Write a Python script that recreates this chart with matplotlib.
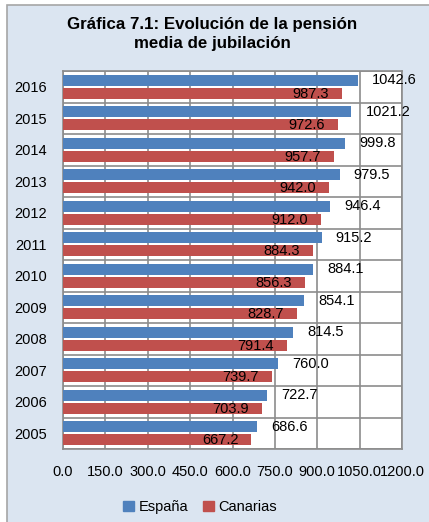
import matplotlib
matplotlib.use("Agg")
import matplotlib.pyplot as plt
from matplotlib import font_manager
from matplotlib.patches import Rectangle
import numpy as np

years = ['2005', '2006', '2007', '2008', '2009', '2010',
         '2011', '2012', '2013', '2014', '2015', '2016']
espana = [686.6, 722.7, 760.0, 814.5, 854.1, 884.1,
          915.2, 946.4, 979.5, 999.8, 1021.2, 1042.6]
canarias = [667.2, 703.9, 739.7, 791.4, 828.7, 856.3,
            884.3, 912.0, 942.0, 957.7, 972.6, 987.3]
xticks = [0, 150, 300, 450, 600, 750, 900, 1050, 1200]

# fuente estrecha si existe, si no Liberation Sans un poco más pequeña
names = {f.name for f in font_manager.fontManager.ttflist}
if 'Liberation Sans Narrow' in names:
    plt.rcParams['font.family'] = ['Liberation Sans Narrow', 'DejaVu Sans']
    fs, fs_title = 12, 14
else:
    plt.rcParams['font.family'] = ['Liberation Sans', 'DejaVu Sans']
    fs, fs_title = 10.5, 12.2

bg = '#dbe5f1'
blue = '#4f81bd'
red = '#c0504d'
grid = '#8c8c8c'

fig = plt.figure(figsize=(4.29, 5.22), dpi=100)
fig.patch.set_facecolor('white')
# fondo del gráfico con borde
fig.patches.append(Rectangle((6.5 / 429, -0.01), 1.0, 1 - 4.5 / 522 + 0.01,
                             transform=fig.transFigure, facecolor=bg,
                             edgecolor='#a6a6a6', linewidth=1.2, zorder=-5))

ax = fig.add_axes([63 / 429, 1 - 449 / 522, 339 / 429, 378 / 522])
ax.set_zorder(2)
ax.set_facecolor('white')

y = np.arange(len(years))
h = 0.35
ax.barh(y + 0.21, espana, height=h, color=blue, zorder=3)
ax.barh(y - 0.20, canarias, height=h, color=red, zorder=3)

# etiquetas de valores
for i in range(len(years)):
    ax.text(espana[i] + 50, y[i] + 0.21, f'{espana[i]:.1f}',
            ha='left', va='center', fontsize=fs, zorder=4, clip_on=False)
    ax.text(canarias[i] - 46, y[i] - 0.22, f'{canarias[i]:.1f}',
            ha='right', va='center', fontsize=fs, zorder=4)

ax.set_xlim(0, 1200)
ax.set_ylim(-0.5, len(years) - 0.5)
ax.set_xticks(xticks)
ax.set_xticklabels([f'{v:.1f}' for v in xticks], fontsize=fs)
ax.set_yticks(y)
ax.set_yticklabels(years, fontsize=fs)
ax.set_yticks(np.arange(-0.5, len(years), 1), minor=True)
ax.tick_params(axis='both', which='both', length=0)
ax.tick_params(axis='x', pad=11.5)
ax.tick_params(axis='y', pad=11.5)

ax.grid(True, axis='x', which='major', color=grid, linewidth=1.2, zorder=1)
ax.grid(True, axis='y', which='minor', color=grid, linewidth=1.2, zorder=1)
ax.set_axisbelow(True)
for s in ax.spines.values():
    s.set_color(grid)
    s.set_linewidth(1.2)

fig.text(212 / 429, 1 - 34 / 522, 'Gráfica 7.1: Evolución de la pensión\nmedia de jubilación',
         ha='center', va='center', fontsize=fs_title, fontweight='bold',
         linespacing=1.4)

handles = [Rectangle((0, 0), 1, 1, color=blue), Rectangle((0, 0), 1, 1, color=red)]
fig.legend(handles, ['España', 'Canarias'], loc='center',
           bbox_to_anchor=(200 / 429, 1 - 507 / 522), ncol=2, frameon=False,
           fontsize=fs, handlelength=0.75, handleheight=0.75,
           handletextpad=0.3, columnspacing=1.0)

fig.savefig('out.png', dpi=100, facecolor=fig.get_facecolor())
